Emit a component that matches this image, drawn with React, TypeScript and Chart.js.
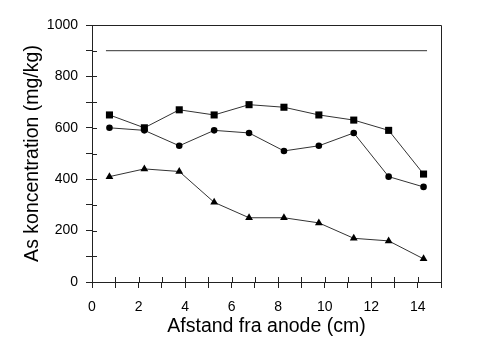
import React, { useEffect, useRef } from "react";
import { Chart, registerables } from "chart.js";

Chart.register(...registerables);

const xPositions = [0.75, 2.25, 3.75, 5.25, 6.75, 8.25, 9.75, 11.25, 12.75, 14.25];
const squareSeries = [650, 600, 670, 650, 690, 680, 650, 630, 590, 420];
const circleSeries = [600, 590, 530, 590, 580, 510, 530, 580, 410, 370];
const triangleSeries = [410, 440, 430, 310, 250, 250, 230, 170, 160, 90];
const limitX = [0.6, 14.4];
const limitY = [900, 900];

const xTitle = "Afstand fra anode (cm)";
const yTitle = "As koncentration (mg/kg)";

const FONT = "'Liberation Sans', Arial, sans-serif";

const frameAndTicks = {
  id: "frameAndTicks",
  afterDraw(chart: any) {
    const { ctx, chartArea, scales } = chart;
    const { left, right, top, bottom } = chartArea;
    ctx.save();
    ctx.strokeStyle = "#222";
    ctx.lineWidth = 1;
    ctx.beginPath();
    const xs = scales.x;
    xs.ticks.forEach((t: any) => {
      const px = Math.round(xs.getPixelForValue(t.value)) + 0.5;
      ctx.moveTo(px, bottom);
      ctx.lineTo(px, bottom - 5);
    });
    const ys = scales.y;
    ys.ticks.forEach((t: any) => {
      const py = Math.round(ys.getPixelForValue(t.value)) + 0.5;
      ctx.moveTo(left, py);
      ctx.lineTo(left + 5, py);
    });
    const l = Math.round(left) + 0.5;
    const r = Math.round(right) + 0.5;
    const tp = Math.round(top) + 0.5;
    const b = Math.round(bottom) + 0.5;
    ctx.moveTo(l, tp);
    ctx.lineTo(r, tp);
    ctx.lineTo(r, b);
    ctx.stroke();
    ctx.restore();
  },
};

function toPoints(xs: number[], ys: number[]) {
  return xs.map((x, i) => ({ x, y: ys[i] }));
}

export default function App() {
  const ref = useRef<HTMLCanvasElement>(null);
  useEffect(() => {
    if (!ref.current) return;
    const lineColor = "#333";
    const chart = new Chart(ref.current, {
      type: "line",
      data: {
        datasets: [
          {
            data: toPoints(limitX, limitY),
            borderColor: "#333",
            borderWidth: 1,
            pointRadius: 0,
          },
          {
            data: toPoints(xPositions, squareSeries),
            borderColor: lineColor,
            borderWidth: 1,
            pointStyle: "rect",
            pointRadius: 5,
            pointBackgroundColor: "#000",
            pointBorderColor: "#000",
            pointBorderWidth: 0,
          },
          {
            data: toPoints(xPositions, circleSeries),
            borderColor: lineColor,
            borderWidth: 1,
            pointStyle: "circle",
            pointRadius: 3.3,
            pointBackgroundColor: "#000",
            pointBorderColor: "#000",
            pointBorderWidth: 0,
          },
          {
            data: toPoints(xPositions, triangleSeries),
            borderColor: lineColor,
            borderWidth: 1,
            pointStyle: "triangle",
            pointRadius: 4.5,
            pointBackgroundColor: "#000",
            pointBorderColor: "#000",
            pointBorderWidth: 0,
          },
        ],
      },
      options: {
        animation: false,
        responsive: false,
        maintainAspectRatio: false,
        layout: { padding: { left: 21, right: 49, top: 25, bottom: 6 } },
        plugins: { legend: { display: false }, tooltip: { enabled: false } },
        scales: {
          x: {
            type: "linear",
            min: 0,
            max: 15,
            afterFit: (s: any) => {
              s.height = 57;
            },
            ticks: {
              stepSize: 1,
              autoSkip: false,
              maxRotation: 0,
              color: "#000",
              font: { family: FONT, size: 14 },
              padding: 11,
              callback: (v: any) => (Number(v) % 2 === 0 ? String(v) : ""),
            },
            grid: {
              drawOnChartArea: false,
              drawTicks: true,
              tickLength: 6,
              color: "#222",
            },
            border: { color: "#222", width: 1 },
            title: {
              display: true,
              text: xTitle,
              color: "#000",
              font: { family: FONT, size: 19.5 },
              padding: { top: 0, bottom: 1 },
            },
          },
          y: {
            min: 0,
            max: 1000,
            afterFit: (s: any) => {
              s.width = 71;
            },
            ticks: {
              stepSize: 100,
              autoSkip: false,
              color: "#000",
              font: { family: FONT, size: 14 },
              padding: 8,
              callback: (v: any) => (Number(v) % 200 === 0 ? String(v) : ""),
            },
            grid: {
              drawOnChartArea: false,
              drawTicks: true,
              tickLength: 6,
              color: "#222",
            },
            border: { color: "#222", width: 1 },
            title: {
              display: true,
              text: yTitle,
              color: "#000",
              font: { family: FONT, size: 19.5 },
              padding: { top: 0, bottom: 0 },
            },
          },
        },
      },
      plugins: [frameAndTicks],
    } as any);
    return () => chart.destroy();
  }, []);
  return (
    <div style={{ position: "absolute", left: 0, top: 0, width: 490, height: 345, background: "#fff" }}>
      <canvas ref={ref} width={490} height={345} style={{ width: 490, height: 345 }} />
    </div>
  );
}
